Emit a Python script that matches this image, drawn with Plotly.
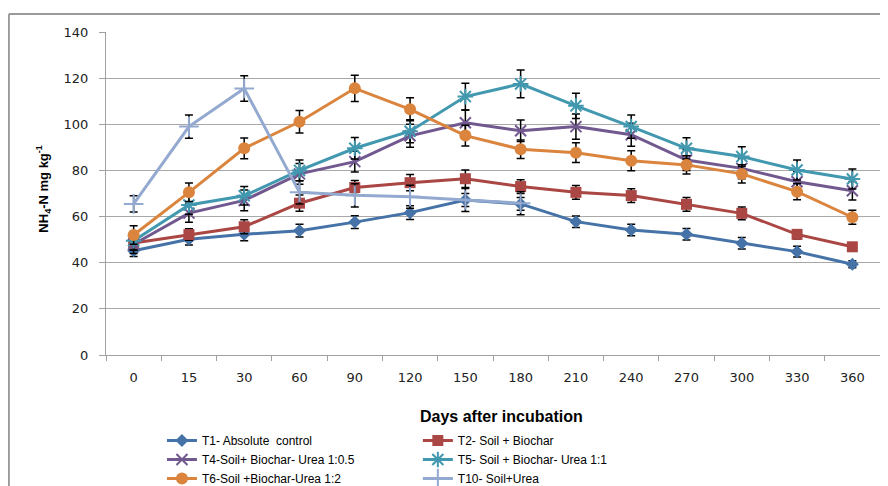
import plotly.graph_objects as go

days = ["0", "15", "30", "60", "90", "120", "150", "180", "210", "240", "270", "300", "330", "360"]

t1 = [45.2, 50.2, 52.3, 53.9, 57.6, 61.7, 67.2, 65.5, 57.8, 54.2, 52.3, 48.4, 44.8, 39.3]
t2 = [48.5, 52.2, 55.6, 65.8, 72.6, 74.7, 76.4, 73.0, 70.5, 69.1, 65.3, 61.4, 52.3, 46.9]
t4 = [48.0, 61.5, 67.0, 78.5, 83.8, 95.0, 100.7, 97.2, 99.0, 95.5, 84.5, 80.9, 75.1, 71.2]
t5 = [49.5, 65.0, 69.0, 80.0, 89.6, 97.0, 112.0, 117.5, 108.0, 99.0, 89.6, 86.0, 80.2, 76.3]
t6 = [52.0, 70.5, 89.6, 101.1, 115.6, 106.5, 95.1, 89.2, 87.7, 84.2, 82.4, 78.5, 70.8, 59.7]
t10 = [65.5, 99.0, 115.5, 70.5, 69.2, 68.6, 67.2, 65.8]

e1 = [2.5, 2.5, 2.8, 2.8, 2.8, 3.0, 2.8, 2.8, 2.5, 2.5, 2.5, 2.5, 2.3, 1.5]
e2 = [3.0, 2.5, 3.0, 3.5, 3.0, 3.5, 3.8, 3.0, 3.0, 3.0, 3.0, 2.8, 2.0, 1.5]
e4 = [4.0, 4.0, 4.5, 4.5, 4.5, 5.0, 5.5, 4.7, 5.5, 5.0, 4.5, 4.5, 4.5, 4.0]
e5 = [4.0, 4.0, 4.0, 4.5, 4.7, 5.0, 5.8, 6.0, 5.5, 5.0, 4.6, 4.3, 4.3, 4.3]
e6 = [4.0, 4.0, 4.5, 4.9, 5.7, 5.0, 4.5, 4.0, 4.3, 4.3, 4.0, 4.0, 3.5, 3.0]
e10 = [3.5, 5.0, 5.5, 5.0, 5.0, 5.0, 5.0, 5.0]

names = ["T1- Absolute  control", "T2- Soil + Biochar", "T4-Soil+ Biochar- Urea 1:0.5",
         "T5- Soil + Biochar- Urea 1:1", "T6-Soil +Biochar-Urea 1:2", "T10- Soil+Urea"]

series = [
    (t1, e1, "#4572A7", "diamond", 10, 0, "legend"),
    (t2, e2, "#AA4643", "square", 11, 0, "legend2"),
    (t4, e4, "#71588F", "x-thin-open", 11, 2, "legend"),
    (t5, e5, "#4198AF", "asterisk-open", 13, 2, "legend2"),
    (t6, e6, "#DB843D", "circle", 12, 0, "legend"),
    (t10, e10, "#93A9CF", "cross-thin-open", 14, 2, "legend2"),
]

FONT = "Liberation Sans, Arial, sans-serif"
TICKFONT = "DejaVu Sans, Liberation Sans, sans-serif"

fig = go.Figure()
for name, (vals, errs, col, sym, sz, lw, lg) in zip(names, series):
    mk = dict(symbol=sym, size=sz, color=col)
    if lw:
        mk["line"] = dict(color=col, width=lw)
    fig.add_trace(go.Scatter(
        x=days[:len(vals)], y=vals, name=name, mode="lines+markers",
        line=dict(color=col, width=3),
        marker=mk, legend=lg,
        error_y=dict(type="data", array=errs, visible=True, color="black",
                     thickness=1.5, width=4),
    ))

leg_common = dict(orientation="v", xref="paper", yref="container",
                  xanchor="left", y=0.1255, yanchor="top",
                  font=dict(family=FONT, size=12, color="black"),
                  bgcolor="rgba(0,0,0,0)", itemwidth=30)

fig.update_layout(
    width=880, height=478,
    margin=dict(l=98, r=8, t=24, b=131),
    paper_bgcolor="white", plot_bgcolor="white",
    font=dict(family=FONT, size=13, color="black"),
    showlegend=True,
    legend=dict(x=0.0723, **leg_common),
    legend2=dict(x=0.4029, **leg_common),
    xaxis=dict(type="category", categoryorder="array", categoryarray=days,
               range=[-0.5, 13.5], tickson="boundaries", ticks="outside", ticklen=5,
               tickcolor="#A0A0A0", showline=True, linecolor="#A0A0A0", linewidth=1,
               ticklabelstandoff=10, automargin=False,
               showgrid=False, tickfont=dict(family=TICKFONT, size=13, color="#222222")),
    yaxis=dict(range=[0, 140], dtick=20, ticks="outside", ticklen=6, tickcolor="#A0A0A0",
               showline=True, linecolor="#A0A0A0", linewidth=1, ticklabelstandoff=8,
               automargin=False,
               showgrid=True, gridcolor="#A8A8A8", gridwidth=1, zeroline=False,
               tickfont=dict(family=TICKFONT, size=13, color="#222222")),
    annotations=[
        dict(text="<b>NH<sub>4</sub>-N mg kg<sup>-1</sup></b>", xref="paper", yref="paper",
             x=-0.0814, y=0.515, xanchor="center", yanchor="middle", textangle=-90,
             showarrow=False, font=dict(family=FONT, size=13, color="black")),
        dict(text="<b>Days after incubation</b>", xref="paper", yref="paper",
             x=0.5116, y=-0.19, xanchor="center", yanchor="middle", showarrow=False,
             font=dict(family=FONT, size=16, color="black")),
    ],
    shapes=[
        dict(type="line", xref="paper", yref="paper", x0=-0.1255, x1=-0.1255, y0=1.0557, y1=-0.45,
             line=dict(color="#9A9A9A", width=2)),
        dict(type="line", xref="paper", yref="paper", x0=-0.1255, x1=1.02, y0=1.0557, y1=1.0557,
             line=dict(color="#9A9A9A", width=2)),
    ],
)

fig.write_html("out.html")
